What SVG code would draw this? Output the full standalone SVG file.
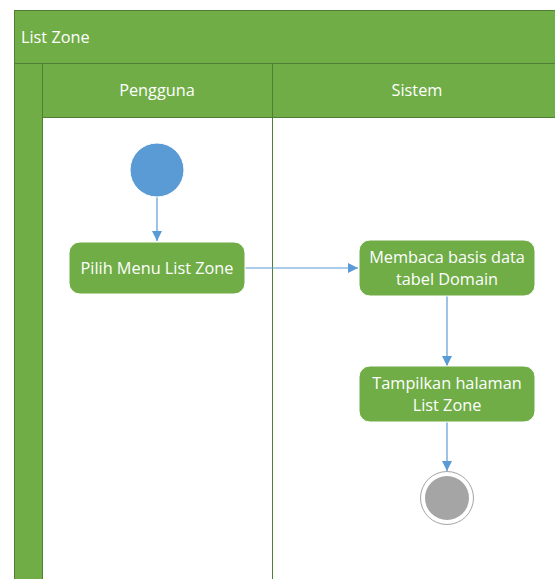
<svg xmlns="http://www.w3.org/2000/svg" width="555" height="579" viewBox="0 0 555 579">
  <style>
    .lane { fill: #70ad47; stroke: #507e32; stroke-width: 1; }
    .body { fill: #ffffff; stroke: #507e32; stroke-width: 1; }
    .act { fill: #70ad47; stroke: #ffffff; stroke-width: 1; }
    .lbl { font-family: "Open Sans", "Liberation Sans", sans-serif; font-size: 16.3px; fill: #ffffff; text-anchor: middle; }
    .title { font-family: "Open Sans", "Liberation Sans", sans-serif; font-size: 16.3px; fill: #ffffff; }
    .flow { stroke: #5b9bd5; stroke-width: 1.2; fill: none; marker-end: url(#arrow); }
  </style>
  <defs>
    <marker id="arrow" viewBox="0 0 10 10" refX="10" refY="5" markerWidth="10" markerHeight="10" markerUnits="userSpaceOnUse" orient="auto">
      <path d="M0,0 L10,5 L0,10 z" fill="#5b9bd5"/>
    </marker>
  </defs>

  <!-- swimlane frame -->
  <g id="pool">
    <rect class="lane" x="14.5" y="10.5" width="545" height="575"/>
    <rect class="lane" x="14.5" y="10.5" width="545" height="53"/>
    <text class="title" x="21" y="43">List Zone</text>
    <rect class="body" x="42.5" y="117.5" width="230" height="470"/>
    <rect class="body" x="272.5" y="117.5" width="290" height="470"/>
    <rect class="lane" x="42.5" y="63.5" width="230" height="54"/>
    <rect class="lane" x="272.5" y="63.5" width="290" height="54"/>
    <text class="lbl" x="157" y="96">Pengguna</text>
    <text class="lbl" x="417" y="96">Sistem</text>
  </g>

  <!-- connectors -->
  <g id="connectors">
    <line class="flow" x1="157" y1="197" x2="157" y2="241"/>
    <line class="flow" x1="245" y1="268" x2="358" y2="268"/>
    <line class="flow" x1="447" y1="296" x2="447" y2="366"/>
    <line class="flow" x1="447" y1="422" x2="447" y2="471"/>
  </g>

  <g id="start">
    <circle cx="157" cy="170" r="27" fill="#5b9bd5" stroke="#ffffff" stroke-width="1"/>
  </g>

  <g id="pilih-menu">
    <rect class="act" x="69" y="242" width="176" height="52" rx="11"/>
    <text class="lbl" x="157" y="274">Pilih Menu List Zone</text>
  </g>

  <g id="membaca">
    <rect class="act" x="359" y="240" width="176" height="56" rx="11"/>
    <text class="lbl" x="447" y="263">Membaca basis data</text>
    <text class="lbl" x="447" y="285">tabel Domain</text>
  </g>

  <g id="tampilkan">
    <rect class="act" x="359" y="366" width="176" height="56" rx="11"/>
    <text class="lbl" x="447" y="389">Tampilkan halaman</text>
    <text class="lbl" x="447" y="411">List Zone</text>
  </g>

  <g id="end">
    <circle cx="447" cy="498" r="26.5" fill="#ffffff" stroke="#a5a5a5" stroke-width="1"/>
    <circle cx="447" cy="498" r="22" fill="#a5a5a5"/>
  </g>
</svg>
